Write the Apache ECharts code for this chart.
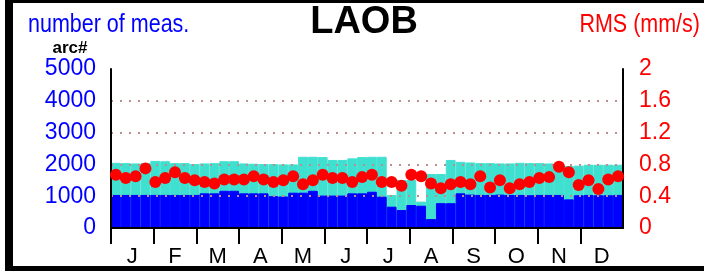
<!DOCTYPE html>
<html>
<head>
<meta charset="utf-8">
<script src="https://cdn.jsdelivr.net/npm/echarts@6/dist/echarts.min.js"></script>
<style>
html,body{margin:0;padding:0;background:#fff;}
#chart{width:704px;height:271px;}
</style>
</head>
<body>
<div id="chart"></div>
<script>
const months = ['J','F','M','A','M','J','J','A','S','O','N','D'];
const weekLabels = ['W1','W2','W3','W4','W5','W6','W7','W8','W9','W10','W11','W12','W13','W14','W15','W16','W17','W18','W19','W20','W21','W22','W23','W24','W25','W26','W27','W28','W29','W30','W31','W32','W33','W34','W35','W36','W37','W38','W39','W40','W41','W42','W43','W44','W45','W46','W47','W48','W49','W50','W51','W52'];
// total number of measurements (turquoise)
const totalMeas = [2050,2040,2030,2040,2110,2100,2040,2040,2010,2030,2040,2100,2100,2030,2020,2010,2010,2000,2000,2240,2240,2230,2140,2140,2190,2230,2240,2240,1040,1510,1510,830,1700,1700,2140,2080,2060,2040,2040,2030,2030,2050,2040,2040,2030,2030,1950,1960,1990,1990,1990,1990];
// number of arcs (blue)
const arcMeas = [1040,1040,1040,1040,1040,1040,1040,1040,1040,1090,1090,1170,1170,1090,1090,1090,1000,990,1110,1110,1170,1020,1020,1020,1090,1090,1140,985,670,566,723,700,280,780,780,1090,1050,1040,1040,1050,1040,1040,1030,1040,1040,1040,900,1030,1040,1030,1030,1040];
// RMS (mm/s)
const rms = [0.67,0.63,0.65,0.75,0.58,0.63,0.70,0.63,0.60,0.58,0.56,0.61,0.61,0.61,0.65,0.61,0.58,0.60,0.65,0.55,0.60,0.67,0.63,0.63,0.58,0.64,0.67,0.58,0.58,0.53,0.67,0.65,0.56,0.50,0.55,0.58,0.55,0.65,0.51,0.60,0.50,0.55,0.58,0.63,0.64,0.77,0.70,0.54,0.60,0.49,0.61,0.65];
const leftTicks = ['0','1000','2000','3000','4000','5000'];
const rightTicks = ['0','0.4','0.8','1.2','1.6','2'];

const FONT = 'Liberation Sans, Arial, Helvetica, sans-serif';
const chart = echarts.init(document.getElementById('chart'));
chart.setOption({
  animation: false,
  backgroundColor: '#fff',
  textStyle: { fontFamily: FONT },
  grid: { left: 111, right: 81, top: 69, bottom: 43 },
  xAxis: [
    {
      type: 'value', min: 0, max: months.length, position: 'bottom', z: 10,
      axisLine: { show: true, lineStyle: { color: '#000', width: 2 } },
      axisTick: { show: true, customValues: months.map((m, i) => i), length: 16, lineStyle: { color: '#000', width: 2 } },
      axisLabel: { customValues: months.map((m, i) => i + 0.5), formatter: v => months[Math.floor(v)], color: '#000', fontSize: 22, fontFamily: FONT, margin: 18 },
      splitLine: { show: false }
    },
    {
      type: 'category', data: weekLabels, position: 'top', z: 10,
      axisLine: { show: true, lineStyle: { color: '#000', width: 2 } },
      axisTick: { show: false }, axisLabel: { show: false }, splitLine: { show: false }
    }
  ],
  yAxis: [
    {
      type: 'value', min: 0, max: 5000, interval: 1000, position: 'left', z: 10,
      axisLine: { show: true, lineStyle: { color: '#000', width: 2 } },
      axisTick: { show: false },
      axisLabel: { color: '#0000ff', fontSize: 23, fontFamily: FONT, margin: 15, formatter: (v, i) => leftTicks[i] },
      splitLine: { show: true, showMinLine: false, showMaxLine: false, lineStyle: { color: '#bc8f8f', type: [2, 7], width: 2 } }
    },
    {
      type: 'value', min: 0, max: 2, interval: 0.4, position: 'right', z: 10,
      axisLine: { show: true, lineStyle: { color: '#000', width: 2 } },
      axisTick: { show: false },
      axisLabel: { color: '#ff0000', fontSize: 23, fontFamily: FONT, margin: 16, formatter: (v, i) => rightTicks[i] },
      splitLine: { show: false }
    }
  ],
  series: [
    { type: 'bar', xAxisIndex: 1, yAxisIndex: 0, data: totalMeas, barWidth: '100%', barGap: '-100%', itemStyle: { color: '#40e0d0', borderColor: '#40e0d0', borderWidth: 1 }, z: 2 },
    { type: 'bar', xAxisIndex: 1, yAxisIndex: 0, data: arcMeas, barWidth: '100%', barGap: '-100%', itemStyle: { color: '#0000ff', borderColor: '#0000ff', borderWidth: 1 }, z: 3 },
    { type: 'scatter', xAxisIndex: 1, yAxisIndex: 1, data: rms, symbol: 'circle', symbolSize: 12, itemStyle: { color: '#ff0000', opacity: 1 }, z: 20 }
  ],
  graphic: [
    { type: 'rect', shape: { x: 5, y: 0, width: 8, height: 271 }, style: { fill: '#000' }, z: 100 },
    { type: 'rect', shape: { x: 5, y: 0, width: 699, height: 3 }, style: { fill: '#000' }, z: 100 },
    { type: 'rect', shape: { x: 5, y: 266, width: 699, height: 5 }, style: { fill: '#000' }, z: 100 },
    { type: 'text', x: 28, y: 25, scaleX: 0.86, style: { text: 'number of meas.', fill: '#0000ff', font: '25px ' + FONT, verticalAlign: 'middle', align: 'left' }, z: 100 },
    { type: 'text', x: 364, y: 23, style: { text: 'LAOB', fill: '#000', font: 'bold 38px ' + FONT, verticalAlign: 'middle', align: 'center' }, z: 100 },
    { type: 'text', x: 700, y: 25, scaleX: 0.86, style: { text: 'RMS (mm/s)', fill: '#ff0000', font: '25px ' + FONT, verticalAlign: 'middle', align: 'right' }, z: 100 },
    { type: 'text', x: 70, y: 48, style: { text: 'arc#', fill: '#000', font: 'bold 17px ' + FONT, verticalAlign: 'middle', align: 'center' }, z: 100 }
  ]
});
</script>
</body>
</html>
